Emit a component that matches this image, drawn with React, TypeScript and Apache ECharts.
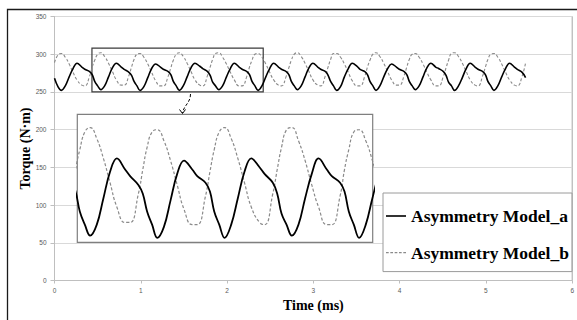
import React, { useEffect, useRef } from "react";
import * as echarts from "echarts";

// Time samples (ms)
const timeMs = [
  0.0, 0.04,
  0.08, 0.125, 0.17, 0.215, 0.261, 0.317, 0.351, 0.407, 0.437, 0.466, 0.5,
  0.536, 0.581, 0.626, 0.671, 0.717, 0.773, 0.807, 0.863, 0.893, 0.922, 0.956,
  0.991, 1.036, 1.081, 1.126, 1.172, 1.228, 1.262, 1.318, 1.348, 1.377, 1.411,
  1.447, 1.492, 1.537, 1.582, 1.628, 1.684, 1.718, 1.774, 1.804, 1.833, 1.867,
  1.903, 1.948, 1.993, 2.038, 2.084, 2.14, 2.174, 2.23, 2.26, 2.289, 2.323,
  2.359, 2.404, 2.449, 2.494, 2.54, 2.596, 2.63, 2.686, 2.716, 2.745, 2.779,
  2.814, 2.859, 2.904, 2.949, 2.995, 3.051, 3.085, 3.141, 3.171, 3.2, 3.234,
  3.27, 3.315, 3.36, 3.405, 3.451, 3.507, 3.541, 3.597, 3.627, 3.656, 3.69,
  3.726, 3.771, 3.816, 3.861, 3.907, 3.963, 3.997, 4.053, 4.083, 4.112, 4.146,
  4.181, 4.226, 4.271, 4.316, 4.362, 4.418, 4.452, 4.508, 4.538, 4.567, 4.601,
  4.637, 4.682, 4.727, 4.772, 4.818, 4.874, 4.908, 4.964, 4.994, 5.023, 5.057,
  5.093, 5.138, 5.183, 5.228, 5.274, 5.33, 5.364, 5.42, 5.46,
];

// Torque, Asymmetry Model_a (N·m)
const modelA = [
  268, 257,
  252, 258, 270, 281, 288, 283, 280, 277, 273, 264, 258,
  253, 258, 270, 282, 288, 283, 280, 276, 272, 264, 258,
  252, 257, 269, 281, 287, 283, 280, 277, 273, 264, 258,
  252, 258, 270, 282, 288, 284, 281, 277, 272, 263, 258,
  253, 258, 270, 281, 288, 283, 280, 277, 273, 264, 258,
  252, 258, 270, 281, 288, 283, 280, 277, 273, 264, 258,
  253, 258, 270, 282, 288, 283, 280, 277, 272, 264, 258,
  252, 257, 270, 281, 288, 284, 280, 277, 273, 264, 258,
  252, 258, 270, 281, 287, 283, 280, 277, 273, 264, 258,
  253, 258, 270, 282, 288, 283, 281, 277, 272, 263, 258,
  252, 258, 269, 281, 288, 283, 280, 277, 273, 264, 258,
  252, 258, 270, 281, 288, 283, 280, 276, 269,
];

// Torque, Asymmetry Model_b (N·m)
const modelB = [
  289, 299,
  301, 296, 287, 276, 266, 259, 258, 271, 283, 292, 300,
  302, 297, 288, 277, 266, 259, 259, 272, 283, 293, 300,
  301, 296, 287, 276, 265, 258, 258, 271, 282, 292, 300,
  302, 297, 288, 277, 266, 259, 258, 272, 283, 293, 301,
  302, 296, 287, 276, 266, 258, 258, 271, 283, 292, 300,
  301, 296, 287, 276, 266, 259, 258, 271, 282, 292, 300,
  302, 297, 288, 277, 266, 259, 258, 272, 283, 293, 301,
  301, 296, 287, 276, 265, 258, 258, 271, 283, 292, 300,
  302, 297, 288, 277, 266, 259, 259, 272, 283, 293, 300,
  301, 296, 287, 276, 266, 258, 258, 271, 282, 292, 301,
  302, 297, 288, 277, 266, 259, 258, 272, 283, 293, 300,
  301, 296, 287, 276, 266, 259, 258, 271, 289,
];

const seriesNames = ["Asymmetry Model_a", "Asymmetry Model_b"];
const xRange = [0, 6];
const yRange = [0, 350];
const zoomBox = { x0: 0.434, x1: 2.419, y0: 250, y1: 308 };
const insetX = [0.449, 2.451];
const insetY = [250, 308];

const pairs = (vals: number[]) => timeMs.map((t, i) => [t, vals[i]]);

const solidIcon = "path://M0,0h20v1.6h-20z";
const dashIcon =
  "path://M0,0h2.5v1h-2.5z M4,0h2.5v1h-2.5z M8,0h2.5v1h-2.5z M12,0h2.5v1h-2.5z M16,0h2.5v1h-2.5z";

export default function App() {
  const ref = useRef<HTMLDivElement>(null);
  useEffect(() => {
    if (!ref.current) return;
    const chart = echarts.init(ref.current, null, { renderer: "svg" });
    const serif = "Liberation Serif";
    const solid = { color: "#000", width: 1.6, type: "solid" as const };
    const dashed = { color: "#8a8a8a", width: 1.1, type: [3, 2] as any };
    chart.setOption({
      animation: false,
      backgroundColor: "#fff",
      grid: [
        {
          left: 54.5, top: 16.5, width: 518, height: 264,
          show: true, borderColor: "#a6a6a6", borderWidth: 1,
          backgroundColor: "transparent",
        },
        {
          left: 77.3, top: 114.3, width: 295.4, height: 128,
          show: true, borderColor: "#7f7f7f", borderWidth: 1.2,
          backgroundColor: "#fff", z: 3,
        },
      ],
      xAxis: [
        {
          type: "value", gridIndex: 0, min: xRange[0], max: xRange[1], interval: 1,
          name: "Time (ms)", nameLocation: "middle", nameGap: 18, nameMoveOverlap: false,
          nameTextStyle: { fontFamily: serif, fontWeight: "bold", fontSize: 14, color: "#000" },
          axisLine: { show: true, lineStyle: { color: "#bfbfbf", width: 1 } },
          axisTick: { show: true, length: 3, lineStyle: { color: "#bfbfbf" } },
          axisLabel: { fontSize: 6.5, color: "#595959", fontFamily: "Liberation Sans", margin: 6 },
          splitLine: { show: false },
        },
        {
          type: "value", gridIndex: 1, min: insetX[0], max: insetX[1], show: false,
          splitLine: { show: false }, z: 3,
        },
      ],
      yAxis: [
        {
          type: "value", gridIndex: 0, min: yRange[0], max: yRange[1], interval: 50,
          name: "Torque (N·m)", nameLocation: "middle", nameGap: 22, nameMoveOverlap: false,
          nameTextStyle: { fontFamily: serif, fontWeight: "bold", fontSize: 14, color: "#000" },
          axisLine: { show: true, lineStyle: { color: "#bfbfbf", width: 1 } },
          axisTick: { show: true, length: 4, lineStyle: { color: "#bfbfbf" } },
          axisLabel: { fontSize: 6.5, color: "#595959", fontFamily: "Liberation Sans", margin: 8 },
          splitLine: { show: true, lineStyle: { color: "#d9d9d9", width: 1 } },
        },
        {
          type: "value", gridIndex: 1, min: insetY[0], max: insetY[1], show: false,
          splitLine: { show: false }, z: 3,
        },
      ],
      legend: {
        data: [
          { name: seriesNames[0], icon: solidIcon, itemStyle: { color: "#000" } },
          { name: seriesNames[1], icon: dashIcon, itemStyle: { color: "#8a8a8a" } },
        ],
        orient: "vertical",
        left: 383, top: 193,
        padding: [14, 3, 10, 3],
        itemGap: 18.6,
        itemWidth: 20, itemHeight: 1.6,
        symbolKeepAspect: true,
        backgroundColor: "#fff",
        borderColor: "#9a9a9a", borderWidth: 1,
        textStyle: { fontFamily: serif, fontWeight: "bold", fontSize: 17.5, color: "#000", lineHeight: 18 },
        z: 10,
      },
      series: [
        {
          name: seriesNames[0], type: "line", xAxisIndex: 0, yAxisIndex: 0,
          data: pairs(modelA), symbol: "none", smooth: 0.4, lineStyle: solid,
          itemStyle: { color: "#000" }, z: 3,
          markArea: {
            silent: true,
            itemStyle: { color: "rgba(0,0,0,0)", borderColor: "#3a3a3a", borderWidth: 1.2 },
            data: [[{ xAxis: zoomBox.x0, yAxis: zoomBox.y0 }, { xAxis: zoomBox.x1, yAxis: zoomBox.y1 }]],
          },
        },
        {
          name: seriesNames[1], type: "line", xAxisIndex: 0, yAxisIndex: 0,
          data: pairs(modelB), symbol: "none", smooth: 0.5, lineStyle: dashed,
          itemStyle: { color: "#8a8a8a" }, z: 2,
        },
        {
          name: "inset_a", type: "line", xAxisIndex: 1, yAxisIndex: 1,
          data: pairs(modelA), symbol: "none", smooth: 0.4, clip: true,
          lineStyle: { ...solid, width: 1.8 }, z: 6,
        },
        {
          name: "inset_b", type: "line", xAxisIndex: 1, yAxisIndex: 1,
          data: pairs(modelB), symbol: "none", smooth: 0.5, clip: true,
          lineStyle: { ...dashed, width: 1.2 }, z: 5,
        },
      ],
      graphic: [
        {
          type: "rect", silent: true, z: 20,
          shape: { x: 7.5, y: 9.5, width: 620, height: 400 },
          style: { fill: "none", stroke: "#1a1a1a", lineWidth: 1.3 },
        },
        {
          type: "bezierCurve", silent: true, z: 20,
          shape: { x1: 190.5, y1: 94, cpx1: 190.5, cpy1: 103, cpx2: 184, cpy2: 105, x2: 182.5, y2: 113 },
          style: { fill: "none", stroke: "#000", lineWidth: 1, lineDash: [3, 2] },
        },
        {
          type: "polyline", silent: true, z: 20,
          shape: { points: [[179.5, 109.5], [182.5, 113.5], [185.5, 109.5]] },
          style: { fill: "none", stroke: "#000", lineWidth: 1 },
        },
      ],
    });
    return () => chart.dispose();
  }, []);
  return <div ref={ref} style={{ width: 577, height: 320, position: "absolute", left: 0, top: 0 }} />;
}
